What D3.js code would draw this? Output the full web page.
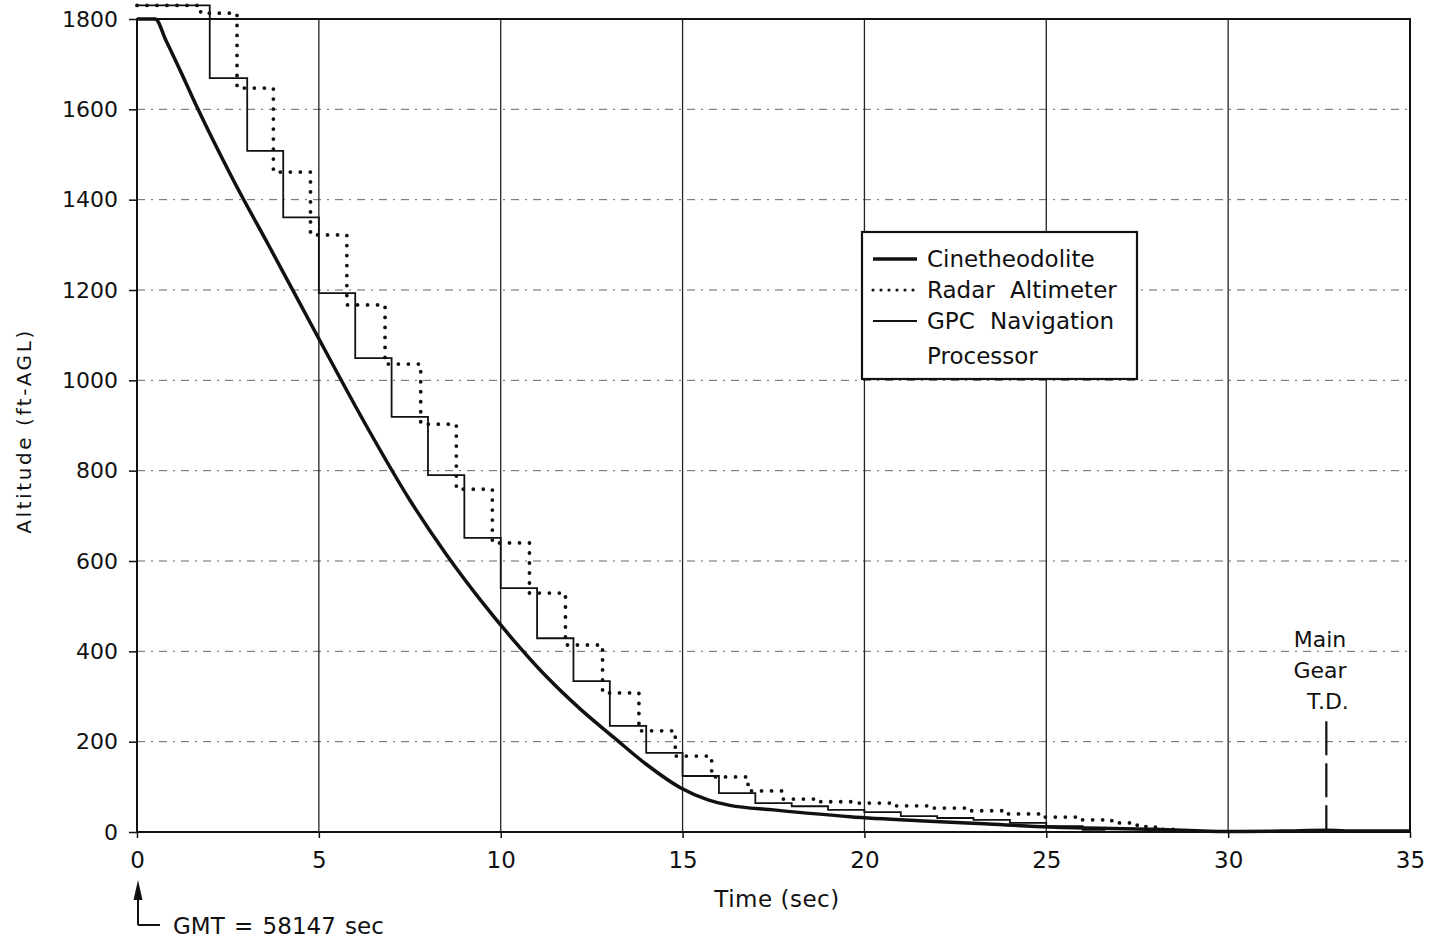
<!DOCTYPE html>
<html>
<head>
<meta charset="utf-8">
<script src="https://cdn.jsdelivr.net/npm/d3@7"></script>
<style>
  html, body { margin: 0; padding: 0; background: #fff; }
  svg { display: block; }
  text { font-family: "DejaVu Sans", sans-serif; fill: #111; }
</style>
</head>
<body>
<svg id="chart" width="1437" height="943"></svg>
<script>
// ---- data ----
const xTicks = [0, 5, 10, 15, 20, 25, 30, 35];
const yTicks = [0, 200, 400, 600, 800, 1000, 1200, 1400, 1600, 1800];

// Cinetheodolite (smooth track)
const cineT = [0, 0.5, 0.8, 1.2, 1.65, 2.65, 3.66, 5.0, 6.3, 7.5, 8.5, 9.44, 10.35, 11.27, 12.19, 13.1, 14.0, 14.94, 15.7, 16.3, 17.5, 19.6, 21.5, 23.3, 25.1, 28.0, 30.0, 31.5, 32.7, 33.5, 35.0];
const cineH = [1800, 1800, 1752, 1684, 1605, 1443, 1293, 1092, 900, 735, 615, 514, 425, 343, 272, 210, 150, 98, 71, 59, 49, 34, 25, 18, 11, 6, 1, 2, 4, 2, 2];

// Radar altimeter (step samples)
const radarT = [0, 1.75, 2.75, 3.75, 4.77, 5.77, 6.82, 7.8, 8.78, 9.77, 10.79, 11.78, 12.8, 13.8, 14.8, 15.8, 16.8, 17.75, 18.8, 19.8, 20.8, 21.8, 22.8, 23.8, 24.8, 25.8, 26.8, 27.5, 28.0, 28.5];
const radarH = [1830, 1813, 1647, 1461, 1322, 1167, 1036, 903, 759, 640, 529, 414, 308, 224, 168, 122, 91, 73, 67, 64, 58, 53, 47, 40, 33, 27, 20, 12, 6, 3];

// GPC navigation processor (step samples)
const gpcT = [0, 2.0, 3.03, 4.02, 5.0, 6.0, 7.0, 8.0, 9.0, 10.0, 11.0, 12.0, 13.0, 14.0, 15.0, 16.0, 17.0, 18.0, 19.0, 20.0, 21.0, 22.0, 23.0, 24.0, 25.0, 26.0, 26.6];
const gpcH = [1830, 1669, 1508, 1361, 1193, 1049, 919, 790, 651, 540, 429, 334, 235, 175, 124, 86, 64, 57, 49, 44, 35, 31, 27, 20, 13, 5, 3];

const legendLabels = [["Cinetheodolite"], ["Radar Altimeter"], ["GPC Navigation", "Processor"]];
const touchdownT = 32.7;

// ---- layout ----
const svg = d3.select("#chart");
const L = 137, R = 1410, T = 19, B = 832;
const x = d3.scaleLinear().domain([0, 35]).range([L, R]);
const y = d3.scaleLinear().domain([0, 1800]).range([B, T]);

// horizontal grid (dash-dot)
svg.append("g").selectAll("line").data(yTicks.filter(v => v > 0 && v < 1800)).join("line")
  .attr("x1", L).attr("x2", R).attr("y1", d => y(d)).attr("y2", d => y(d))
  .attr("stroke", "#666").attr("stroke-width", 1).attr("stroke-dasharray", "8,6,2,6");

// vertical grid
svg.append("g").selectAll("line").data(xTicks.filter(v => v > 0 && v < 35)).join("line")
  .attr("x1", d => x(d)).attr("x2", d => x(d)).attr("y1", T).attr("y2", B)
  .attr("stroke", "#222").attr("stroke-width", 1.3);

// frame
svg.append("rect").attr("x", L).attr("y", T).attr("width", R - L).attr("height", B - T)
  .attr("fill", "none").attr("stroke", "#111").attr("stroke-width", 2);

// axes
const yAxis = d3.axisLeft(y).tickValues(yTicks).tickSize(8).tickPadding(11).tickFormat(d3.format("d"));
const gy = svg.append("g").attr("transform", `translate(${L},0)`).call(yAxis);
gy.select(".domain").remove();
gy.selectAll("line").attr("stroke", "#111").attr("stroke-width", 1.5);
gy.selectAll("text").style("font-size", "22px").attr("fill", "#111");

const xAxis = d3.axisBottom(x).tickValues(xTicks).tickSize(6).tickPadding(14);
const gx = svg.append("g").attr("transform", `translate(0,${B})`).call(xAxis);
gx.select(".domain").remove();
gx.selectAll("line").attr("stroke", "#111").attr("stroke-width", 1.5);
gx.selectAll("text").style("font-size", "23px").attr("fill", "#111");

// axis titles
svg.append("text").attr("x", 777).attr("y", 907).attr("text-anchor", "middle")
  .style("font-size", "23px").style("letter-spacing", "0.5px").text("Time (sec)");
svg.append("text").attr("transform", `translate(31,431) rotate(-90)`).attr("text-anchor", "middle")
  .style("font-size", "20px").style("letter-spacing", "2.6px").text("Altitude (ft-AGL)");

// series
const toPts = (ts, hs) => ts.map((t, i) => [t, hs[i]]);
const lineSmooth = d3.line().x(d => x(d[0])).y(d => y(d[1])).curve(d3.curveMonotoneX);
const lineStep = d3.line().x(d => x(d[0])).y(d => y(d[1])).curve(d3.curveStepAfter);

svg.append("path").attr("d", lineStep(toPts(gpcT, gpcH)))
  .attr("fill", "none").attr("stroke", "#111").attr("stroke-width", 1.8);
svg.append("path").attr("d", lineStep(toPts(radarT, radarH)))
  .attr("fill", "none").attr("stroke", "#111").attr("stroke-width", 3.8)
  .attr("stroke-linecap", "round").attr("stroke-dasharray", "0,10");
svg.append("path").attr("d", lineSmooth(toPts(cineT, cineH)))
  .attr("fill", "none").attr("stroke", "#111").attr("stroke-width", 3.5);

// touchdown marker
svg.append("line").attr("x1", x(touchdownT)).attr("x2", x(touchdownT))
  .attr("y1", y(245)).attr("y2", y(5))
  .attr("stroke", "#111").attr("stroke-width", 2.2).attr("stroke-dasharray", "34,8");
[["Main", 1320], ["Gear", 1320], ["T.D.", 1328]].forEach((s, i) => {
  svg.append("text").attr("x", s[1]).attr("y", 647 + i * 31)
    .attr("text-anchor", "middle").style("font-size", "22px").text(s[0]);
});

// GMT annotation
svg.append("path").attr("d", `M${x(0) + 1},925 L${x(0) + 1},894 M${x(0) + 23},925 L${x(0) + 1},925`)
  .attr("fill", "none").attr("stroke", "#111").attr("stroke-width", 2);
svg.append("path").attr("d", `M${x(0) + 1},880 L${x(0) - 3.5},900 L${x(0) + 5.5},900 Z`).attr("fill", "#111");
svg.append("text").attr("x", x(0) + 36).attr("y", 934).style("font-size", "23px")
  .style("word-spacing", "2px").text("GMT = 58147 sec");

// legend
const lg = svg.append("g");
lg.append("rect").attr("x", 862).attr("y", 232).attr("width", 275).attr("height", 147)
  .attr("fill", "#fff").attr("stroke", "#111").attr("stroke-width", 2.2);
const rowY = [259, 290, 321];
const styles = [
  {w: 3.5, dash: null, cap: "butt"},
  {w: 3.2, dash: "0,8", cap: "round"},
  {w: 1.8, dash: null, cap: "butt"}
];
legendLabels.forEach((lines, i) => {
  const st = styles[i];
  const ln = lg.append("line").attr("x1", 873).attr("x2", 917).attr("y1", rowY[i]).attr("y2", rowY[i])
    .attr("stroke", "#111").attr("stroke-width", st.w).attr("stroke-linecap", st.cap);
  if (st.dash) ln.attr("stroke-dasharray", st.dash);
  lines.forEach((s, j) => {
    lg.append("text").attr("x", 927).attr("y", rowY[i] + 8 + j * 35).style("font-size", "23px")
      .style("word-spacing", "8px").text(s);
  });
});
</script>
</body>
</html>
